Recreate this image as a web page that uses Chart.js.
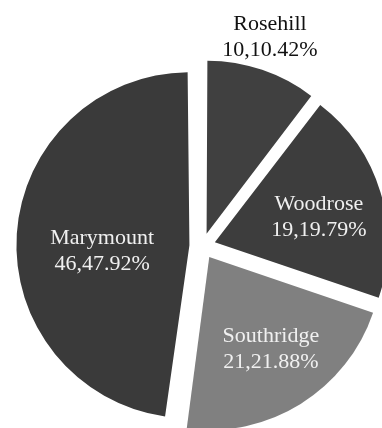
<!DOCTYPE html>
<html>
<head>
<meta charset="utf-8">
<script src="https://cdn.jsdelivr.net/npm/chart.js@4.4.1/dist/chart.umd.min.js"></script>
<style>
  html, body { margin: 0; padding: 0; background: #fff; overflow: hidden; }
  #wrap { position: relative; width: 382px; height: 428px; }
</style>
</head>
<body>
<div id="wrap"><canvas id="schoolPie"></canvas></div>
<script>
// schools, clockwise from 12 o'clock
const schools = ['Rosehill', 'Woodrose', 'Southridge', 'Marymount'];
const students = [10, 19, 21, 46];

const sliceColors = ['#404040', '#3d3d3d', '#808080', '#3a3a3a'];
const textColors = ['#111111', '#f0f0f0', '#f0f0f0', '#f0f0f0'];
// label placement: distance past the slice tip (share of radius) and a small turn in degrees
const labelDist = [1.2, 0.62, 0.635, 0.505];
const labelTurn = [-0.9, 2.5, -2, -6];

const RADIUS = 173;
const EXPLODE = 13; // px each slice is pulled out

const total = students.reduce((a, b) => a + b, 0);

// chart.js grows exploded arcs a little, undo that so all slices share one radius
const evenRadius = {
    id: 'evenRadius',
    beforeDatasetsDraw(chart) {
        chart.getDatasetMeta(0).data.forEach(arc => {
            const fix = 1 - Math.sin(Math.min(Math.PI, arc.circumference));
            arc.outerRadius = RADIUS - (arc.options.offset / 4) * fix;
        });
    }
};

const sliceLabels = {
    id: 'sliceLabels',
    afterDatasetsDraw(chart) {
        const ctx = chart.ctx;
        ctx.save();
        ctx.font = '22px "Liberation Serif", "Times New Roman", serif';
        ctx.textAlign = 'center';
        ctx.textBaseline = 'alphabetic';
        chart.getDatasetMeta(0).data.forEach((arc, i) => {
            const mid = (arc.startAngle + arc.endAngle) / 2 + labelTurn[i] * Math.PI / 180;
            const d = EXPLODE + labelDist[i] * RADIUS;
            const x = arc.x + Math.cos(mid) * d;
            const y = arc.y + Math.sin(mid) * d;
            const pct = (students[i] / total * 100).toFixed(2);
            ctx.fillStyle = textColors[i];
            ctx.fillText(schools[i], x, y - 6);
            ctx.fillText(students[i] + ',' + pct + '%', x, y + 20);
        });
        ctx.restore();
    }
};

new Chart(document.getElementById('schoolPie'), {
    type: 'pie',
    data: {
        labels: schools,
        datasets: [{
            data: students,
            backgroundColor: sliceColors,
            borderWidth: 0,
            offset: EXPLODE * 4,
            clip: false
        }]
    },
    options: {
        responsive: true,
        maintainAspectRatio: false,
        animation: false,
        radius: RADIUS,
        layout: { padding: { left: 22.8, top: 64, right: 0, bottom: 0 } },
        plugins: {
            legend: { display: false },
            tooltip: { enabled: false }
        }
    },
    plugins: [evenRadius, sliceLabels]
});
</script>
</body>
</html>
